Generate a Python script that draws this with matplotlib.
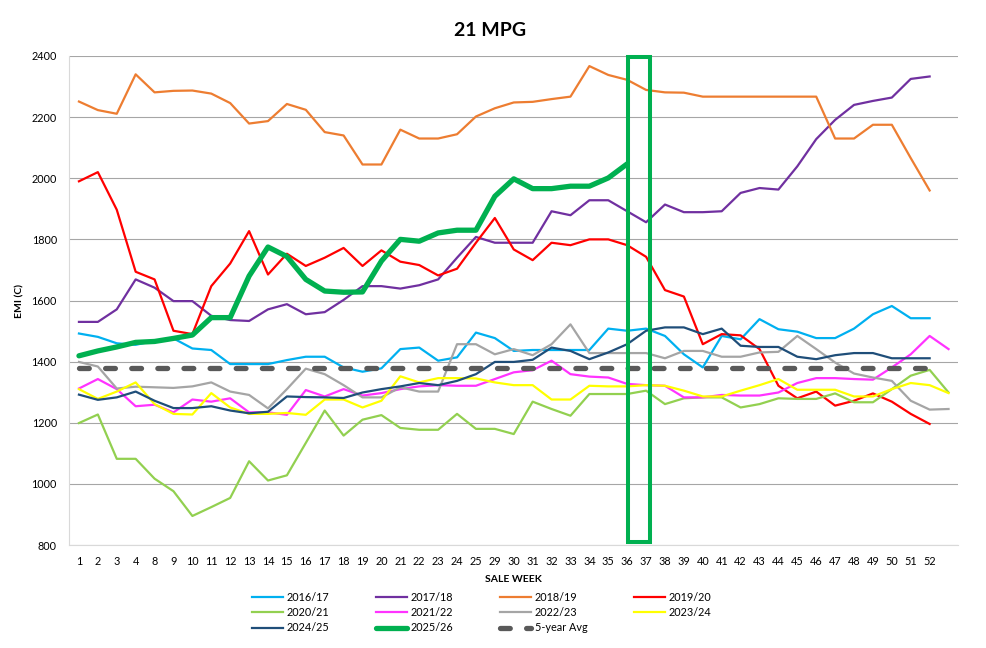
import numpy as np
import matplotlib
matplotlib.use("Agg")
import matplotlib.pyplot as plt
from matplotlib.patches import Rectangle

plt.rcParams["font.family"] = ["Lato", "DejaVu Sans"]

# sale weeks shown on the category axis (last slot has no label)
weeks = ["1", "2", "3", "4", "8", "9", "10", "11", "12", "13", "14", "15", "16",
         "17", "18", "19", "20", "21", "22", "23", "24", "25", "29", "30", "31",
         "32", "33", "34", "35", "36", "37", "38", "39", "40", "41", "42", "43",
         "44", "45", "46", "47", "48", "49", "50", "51", "52", ""]

s2016_17 = [1492, 1481, 1460, 1455, 1468, 1476, 1443, 1438, 1392, 1392, 1392, 1405,
            1416, 1416, 1381, 1367, 1378, 1441, 1446, 1403, 1414, 1495, 1477, 1435,
            1438, 1438, 1438, 1438, 1508, 1501, 1508, 1484, 1424, 1381, 1484, 1473,
            1539, 1506, 1498, 1477, 1477, 1508, 1555, 1582, 1542, 1542]
s2017_18 = [1530, 1530, 1571, 1669, 1642, 1598, 1598, 1550, 1536, 1533, 1571, 1588,
            1555, 1562, 1602, 1647, 1647, 1639, 1650, 1669, 1740, 1808, 1789, 1789,
            1789, 1892, 1879, 1928, 1928, 1892, 1856, 1914, 1889, 1889, 1892, 1952,
            1968, 1963, 2039, 2128, 2191, 2240, 2253, 2264, 2325, 2333]
s2018_19 = [2251, 2223, 2211, 2340, 2281, 2286, 2287, 2277, 2246, 2179, 2187, 2243,
            2224, 2151, 2140, 2045, 2045, 2159, 2130, 2130, 2144, 2202, 2229, 2248,
            2250, 2259, 2267, 2367, 2338, 2322, 2289, 2281, 2280, 2267, 2267, 2267,
            2267, 2267, 2267, 2267, 2130, 2130, 2175, 2175, 2066, 1960]
s2019_20 = [1990, 2020, 1897, 1694, 1669, 1501, 1490, 1647, 1721, 1827, 1685, 1753,
            1713, 1740, 1772, 1713, 1764, 1727, 1716, 1682, 1704, 1789, 1870, 1767,
            1732, 1789, 1781, 1800, 1800, 1781, 1743, 1634, 1613, 1457, 1490, 1486,
            1441, 1321, 1280, 1302, 1256, 1272, 1296, 1269, 1229, 1196]
s2020_21 = [1199, 1227, 1082, 1082, 1017, 976, 895, 924, 954, 1074, 1011, 1028,
            1134, 1240, 1158, 1210, 1225, 1183, 1177, 1177, 1229, 1180, 1180, 1163,
            1269, 1245, 1223, 1294, 1294, 1294, 1305, 1261, 1280, 1283, 1283, 1250,
            1261, 1280, 1278, 1278, 1296, 1267, 1267, 1310, 1354, 1373, 1299]
s2021_22 = [1312, 1343, 1310, 1254, 1259, 1234, 1276, 1269, 1280, 1234, 1234, 1226,
            1307, 1286, 1310, 1289, 1297, 1310, 1319, 1323, 1321, 1321, 1343, 1365,
            1372, 1403, 1359, 1351, 1348, 1327, 1323, 1321, 1283, 1283, 1291, 1289,
            1289, 1299, 1330, 1346, 1346, 1343, 1341, 1381, 1424, 1484, 1441]
s2022_23 = [1399, 1384, 1312, 1318, 1316, 1314, 1319, 1332, 1302, 1291, 1247, 1310,
            1377, 1359, 1323, 1283, 1283, 1316, 1302, 1302, 1457, 1457, 1424, 1441,
            1421, 1457, 1522, 1428, 1428, 1428, 1428, 1411, 1435, 1435, 1416, 1416,
            1430, 1432, 1484, 1441, 1397, 1361, 1348, 1337, 1272, 1243, 1245]
s2023_24 = [1310, 1278, 1302, 1332, 1261, 1229, 1227, 1297, 1250, 1229, 1229, 1232,
            1226, 1276, 1276, 1250, 1272, 1352, 1332, 1346, 1346, 1345, 1332, 1323,
            1323, 1276, 1276, 1321, 1319, 1319, 1323, 1321, 1305, 1286, 1286, 1305,
            1323, 1343, 1308, 1308, 1308, 1286, 1286, 1310, 1330, 1323, 1297]
s2024_25 = [1292, 1275, 1283, 1302, 1272, 1248, 1248, 1254, 1240, 1231, 1236, 1286,
            1284, 1283, 1281, 1299, 1310, 1319, 1330, 1323, 1337, 1359, 1399, 1399,
            1406, 1446, 1435, 1408, 1430, 1457, 1501, 1512, 1512, 1490, 1508, 1452,
            1448, 1448, 1416, 1408, 1421, 1428, 1428, 1411, 1411, 1411]
s2025_26 = [1419, 1435, 1448, 1463, 1466, 1476, 1487, 1544, 1544, 1680, 1775, 1744,
            1669, 1631, 1627, 1628, 1729, 1800, 1794, 1821, 1830, 1830, 1941, 1998,
            1966, 1966, 1974, 1974, 2001, 2047]
avg_5yr = [1378, 1378, 1378, 1378, 1378, 1378, 1378, 1378, 1378, 1378, 1378, 1378,
           1378, 1378, 1378, 1378, 1378, 1378, 1378, 1378, 1378, 1378, 1378, 1378,
           1378, 1378, 1378, 1378, 1378, 1378, 1378, 1378, 1378, 1378, 1378, 1378,
           1378, 1378, 1378, 1378, 1378, 1378, 1378, 1378, 1378, 1378]

series = [
    ("2016/17", s2016_17, "#00B0F0"),
    ("2017/18", s2017_18, "#7030A0"),
    ("2018/19", s2018_19, "#ED7D31"),
    ("2019/20", s2019_20, "#FF0000"),
    ("2020/21", s2020_21, "#92D050"),
    ("2021/22", s2021_22, "#FF33FF"),
    ("2022/23", s2022_23, "#A5A5A5"),
    ("2023/24", s2023_24, "#FFFF00"),
    ("2024/25", s2024_25, "#1F4E79"),
]

fig = plt.figure(figsize=(9.87, 6.48), dpi=100)
ax = fig.add_axes([69.5 / 987, 1 - 545 / 648, (958 - 69.5) / 987, (545 - 56) / 648])

handles = {}
for name, vals, col in series:
    h, = ax.plot(np.arange(len(vals)), vals, color=col, lw=1.6, label=name)
    handles[name] = h

h, = ax.plot(np.arange(len(s2025_26)), s2025_26, color="#00B050", lw=3.8,
             solid_capstyle="round", label="2025/26")
handles["2025/26"] = h
h, = ax.plot(np.arange(len(avg_5yr)), avg_5yr, color="#595959", lw=3.8,
             dashes=(1.85, 3.1), dash_capstyle="round", label="5-year Avg")
handles["5-year Avg"] = h

# highlight box around weeks 36-37
ax.add_patch(Rectangle((29.05, 811), 1.16, 1586, fill=False, edgecolor="#00B050",
                       lw=2.9, joinstyle="miter", clip_on=False, zorder=5))

ax.set_xlim(-0.5, len(weeks) - 0.5)
ax.set_ylim(800, 2400)
ax.set_xticks(np.arange(len(weeks)))
ax.set_xticklabels(weeks)
ax.set_yticks(np.arange(800, 2401, 200))
ax.tick_params(axis="both", length=0, labelsize=7.8)
ax.tick_params(axis="x", pad=8)
ax.tick_params(axis="y", pad=9)
ax.grid(axis="y", color="#A6A6A6", lw=0.8)
ax.set_axisbelow(True)
for side in ["top", "right"]:
    ax.spines[side].set_visible(False)
for side in ["left", "bottom"]:
    ax.spines[side].set_color("#D9D9D9")
    ax.spines[side].set_linewidth(0.8)

ax.set_xlabel("SALE WEEK", fontsize=7.5, fontweight="bold", labelpad=6)
ax.set_ylabel("EMI (C)", fontsize=7.5, fontweight="bold", labelpad=5)
fig.text(0.497, 1 - 30 / 648, "21 MPG", fontsize=14, fontweight="bold",
         ha="center", va="center")

order = ["2016/17", "2020/21", "2024/25", "2017/18", "2021/22", "2025/26",
         "2018/19", "2022/23", "5-year Avg", "2019/20", "2023/24"]
fig.legend([handles[k] for k in order], order, ncol=4, frameon=False,
           fontsize=7.8, loc="center", bbox_to_anchor=(482 / 987, 1 - 612.5 / 648),
           handlelength=2.8, handletextpad=0.4, columnspacing=4.3, labelspacing=0.4,
           borderpad=0)

fig.savefig("out.png", dpi=100)
